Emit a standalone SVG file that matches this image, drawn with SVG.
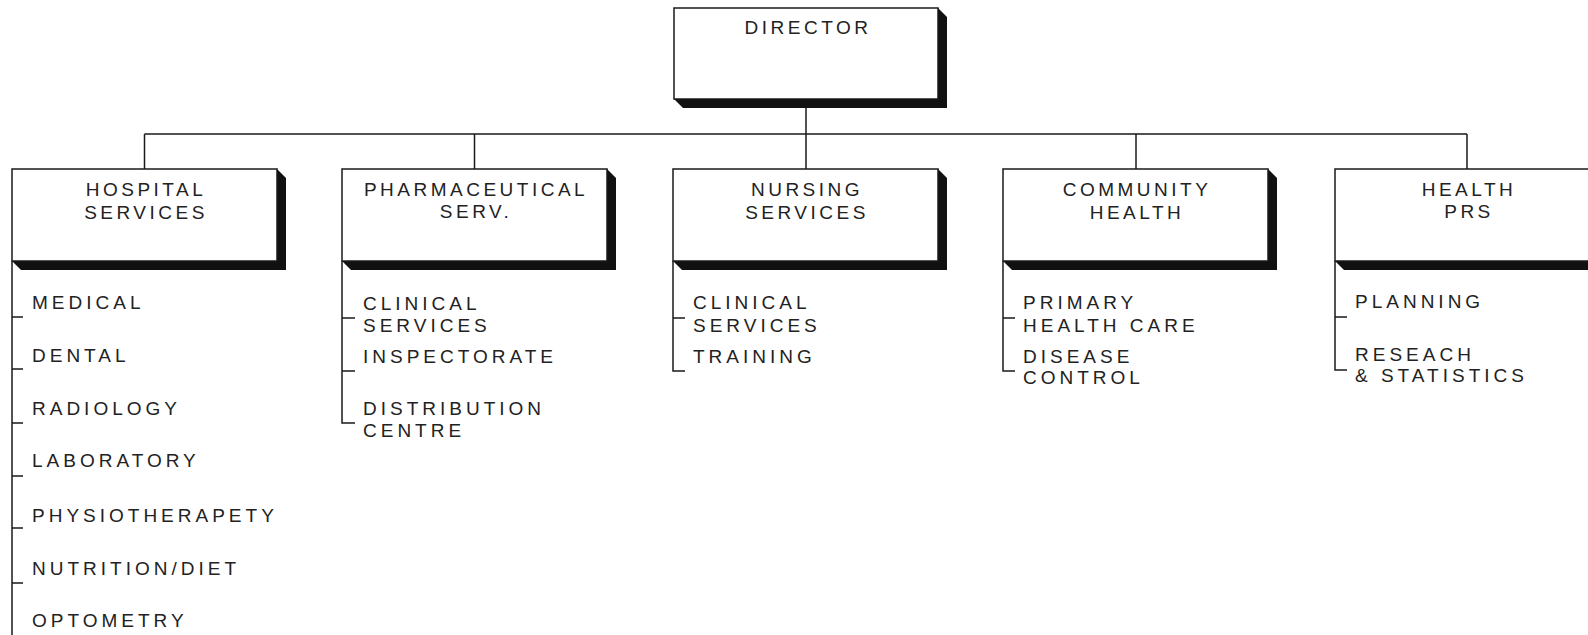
<svg xmlns="http://www.w3.org/2000/svg" width="1588" height="635" viewBox="0 0 1588 635">
<style>
.box{fill:#fff;stroke:#1a1a1a;stroke-width:1.5}
.sh{fill:#111}
.ln{fill:none;stroke:#1a1a1a;stroke-width:1.5}
.hd{font-family:"Liberation Sans",Arial,sans-serif;font-size:19px;letter-spacing:3.5px;fill:#222;text-anchor:middle}
.it{font-family:"Liberation Sans",Arial,sans-serif;font-size:19px;letter-spacing:4px;fill:#222}
</style>
<rect width="1588" height="635" fill="#fff"/>
<g id="connectors" class="ln">
<path d="M806 108V134M144.5 134H1467M144.5 134V169M474.5 134V169M806 134V169M1136 134V169M1467 134V169"/>
<path d="M12 261V635M12 317H23M12 369H23M12 423H23M12 476H23M12 528H23M12 583H23"/>
<path d="M342 261V423H355M342 318H355M342 371H355"/>
<path d="M673 261V371H685M673 318H685"/>
<path d="M1003 261V371H1015M1003 318H1015"/>
<path d="M1335 261V370H1347M1335 317H1347"/>
</g>
<g id="director">
<polygon class="sh" points="674,99 683,108 947,108 947,17 938,8"/>
<rect class="box" x="674" y="8" width="264" height="91"/>
<text class="hd" x="808" y="34">DIRECTOR</text>
</g>
<g id="hospital">
<polygon class="sh" points="12,261 21,270 286,270 286,178 277,169"/>
<rect class="box" x="12" y="169" width="265" height="92"/>
<text class="hd" x="146" y="196">HOSPITAL</text>
<text class="hd" x="146" y="219">SERVICES</text>
<text class="it" x="32" y="309">MEDICAL</text>
<text class="it" x="32" y="362">DENTAL</text>
<text class="it" x="32" y="415">RADIOLOGY</text>
<text class="it" x="32" y="467">LABORATORY</text>
<text class="it" x="32" y="522">PHYSIOTHERAPETY</text>
<text class="it" x="32" y="575">NUTRITION/DIET</text>
<text class="it" x="32" y="627">OPTOMETRY</text>
</g>
<g id="pharmaceutical">
<polygon class="sh" points="342,261 351,270 616,270 616,178 607,169"/>
<rect class="box" x="342" y="169" width="265" height="92"/>
<text class="hd" x="476" y="196">PHARMACEUTICAL</text>
<text class="hd" x="476" y="218">SERV.</text>
<text class="it" x="363" y="310">CLINICAL</text>
<text class="it" x="363" y="332">SERVICES</text>
<text class="it" x="363" y="363">INSPECTORATE</text>
<text class="it" x="363" y="415">DISTRIBUTION</text>
<text class="it" x="363" y="437">CENTRE</text>
</g>
<g id="nursing">
<polygon class="sh" points="673,261 682,270 947,270 947,178 938,169"/>
<rect class="box" x="673" y="169" width="265" height="92"/>
<text class="hd" x="807" y="196">NURSING</text>
<text class="hd" x="807" y="219">SERVICES</text>
<text class="it" x="693" y="309">CLINICAL</text>
<text class="it" x="693" y="332">SERVICES</text>
<text class="it" x="693" y="363">TRAINING</text>
</g>
<g id="community">
<polygon class="sh" points="1003,261 1012,270 1277,270 1277,178 1268,169"/>
<rect class="box" x="1003" y="169" width="265" height="92"/>
<text class="hd" x="1137" y="196">COMMUNITY</text>
<text class="hd" x="1137" y="219">HEALTH</text>
<text class="it" x="1023" y="309">PRIMARY</text>
<text class="it" x="1023" y="332">HEALTH CARE</text>
<text class="it" x="1023" y="363">DISEASE</text>
<text class="it" x="1023" y="384">CONTROL</text>
</g>
<g id="health-prs">
<polygon class="sh" points="1335,261 1344,270 1609,270 1609,178 1600,169"/>
<rect class="box" x="1335" y="169" width="265" height="92"/>
<text class="hd" x="1469" y="196">HEALTH</text>
<text class="hd" x="1469" y="218">PRS</text>
<text class="it" x="1355" y="308">PLANNING</text>
<text class="it" x="1355" y="361">RESEACH</text>
<text class="it" x="1355" y="382">&amp; STATISTICS</text>
</g>
</svg>
